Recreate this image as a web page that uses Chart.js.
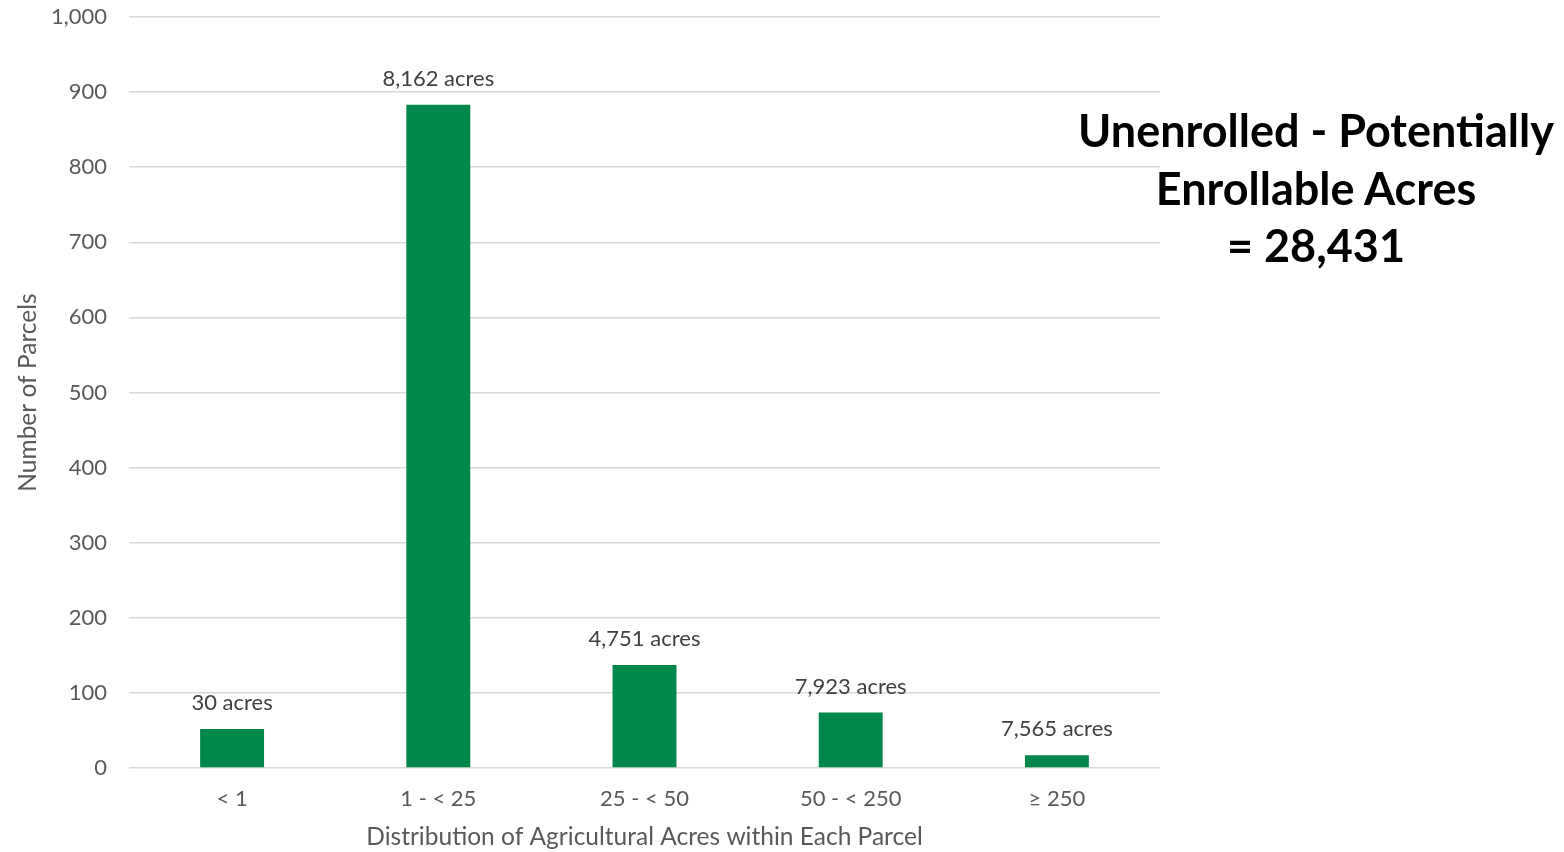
<!DOCTYPE html>
<html>
<head>
<meta charset="utf-8">
<script src="https://cdn.jsdelivr.net/npm/chart.js@4/dist/chart.umd.min.js"></script>
<style>
  html, body { margin: 0; padding: 0; background: #fff; }
  #wrap { position: relative; width: 1564px; height: 852px; }
  #note {
    position: absolute; left: 1066px; top: 102px; width: 500px;
    text-align: center; font-family: Lato, "Open Sans", sans-serif;
    font-weight: bold; font-size: 45px; line-height: 57.5px; color: #000;
  }
</style>
</head>
<body>
<div id="wrap">
  <canvas id="c" width="1564" height="852"></canvas>
  <div id="note">Unenrolled - Potentially<br>Enrollable Acres<br>= 28,431</div>
</div>
<script>
var categories = ['< 1', '1 - < 25', '25 - < 50', '50 - < 250', '\u2265 250'];
var parcels = [52, 883, 137, 74, 17];
var acreLabels = ['30 acres', '8,162 acres', '4,751 acres', '7,923 acres', '7,565 acres'];
var yTicks = [0, 100, 200, 300, 400, 500, 600, 700, 800, 900, 1000];

var fontName = 'Lato, "Open Sans", sans-serif';

// draws the "xx acres" text over each bar
var barLabels = {
    id: 'barLabels',
    afterDatasetsDraw: function(chart) {
        var ctx = chart.ctx;
        var meta = chart.getDatasetMeta(0);
        ctx.save();
        ctx.font = '22px ' + fontName;
        ctx.fillStyle = '#404040';
        ctx.textAlign = 'center';
        ctx.textBaseline = 'middle';
        meta.data.forEach(function(bar, i) {
            ctx.fillText(acreLabels[i], bar.x, bar.y - 26);
        });
        ctx.restore();
    }
};

var ctx = document.getElementById('c').getContext('2d');
new Chart(ctx, {
    type: 'bar',
    data: {
        labels: categories,
        datasets: [{
            data: parcels,
            backgroundColor: '#00874A',
            borderWidth: 0,
            categoryPercentage: 1,
            barPercentage: 0.31
        }]
    },
    options: {
        responsive: false,
        animation: false,
        layout: { padding: { top: 17, right: 404, left: 0, bottom: 0 } },
        plugins: {
            legend: { display: false },
            tooltip: { enabled: false }
        },
        scales: {
            x: {
                afterFit: function(axis) { axis.height = 84; },
                grid: { display: false, drawTicks: false },
                border: { display: false },
                ticks: { color: '#595959', font: { family: fontName, size: 22 }, padding: 18 },
                title: {
                    display: true,
                    text: 'Distribution of Agricultural Acres within Each Parcel',
                    color: '#595959',
                    font: { family: fontName, size: 24.5 },
                    padding: { top: 11, bottom: 0 }
                }
            },
            y: {
                min: 0,
                max: 1000,
                afterBuildTicks: function(axis) {
                    axis.ticks = yTicks.map(function(v) { return { value: v }; });
                },
                afterFit: function(axis) { axis.width = 129; },
                grid: { color: '#d9d9d9', lineWidth: 1.5, drawTicks: true, tickLength: 22, tickColor: 'rgba(0,0,0,0)' },
                border: { display: false },
                ticks: {
                    color: '#595959',
                    font: { family: fontName, size: 22 },
                    padding: 0,
                    callback: function(v) { return v.toLocaleString('en-US'); }
                },
                title: {
                    display: true,
                    text: 'Number of Parcels',
                    color: '#595959',
                    font: { family: fontName, size: 24.5 },
                    padding: { top: 13, bottom: 0 }
                }
            }
        }
    },
    plugins: [barLabels]
});
</script>
</body>
</html>
